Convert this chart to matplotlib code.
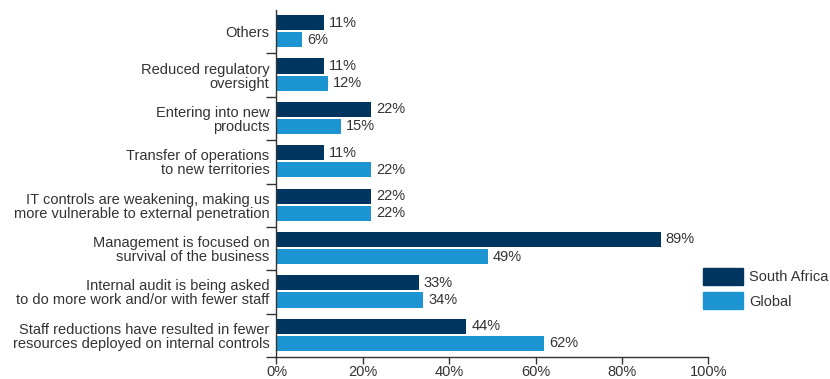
import numpy as np
import matplotlib.pyplot as plt
from matplotlib.patches import Patch

plt.rcParams['font.family'] = ['Liberation Sans', 'DejaVu Sans']

categories = [
    "Others",
    "Reduced regulatory\noversight",
    "Entering into new\nproducts",
    "Transfer of operations\nto new territories",
    "IT controls are weakening, making us\nmore vulnerable to external penetration",
    "Management is focused on\nsurvival of the business",
    "Internal audit is being asked\nto do more work and/or with fewer staff",
    "Staff reductions have resulted in fewer\nresources deployed on internal controls",
]
south_africa = [11, 11, 22, 11, 22, 89, 33, 44]
global_vals = [6, 12, 15, 22, 22, 49, 34, 62]
x_ticks = [0, 20, 40, 60, 80, 100]

dark = '#003560'
light = '#1e95d3'
text_col = '#333333'
fs = 10.5

fig = plt.figure(figsize=(8.3, 3.79), dpi=100)
ax = fig.add_axes([0.3331, 0.058, 0.8534 - 0.3331, 0.9736 - 0.058])

centers = np.arange(len(categories)) + 0.5
h = 0.35
ax.barh(centers - 0.21, south_africa, height=h, color=dark)
ax.barh(centers + 0.185, global_vals, height=h, color=light)

for c, v in zip(centers, south_africa):
    ax.annotate(f"{v}%", (v, c - 0.21), xytext=(3.5, 0), textcoords='offset points',
                va='center', ha='left', fontsize=fs, color=text_col)
for c, v in zip(centers, global_vals):
    ax.annotate(f"{v}%", (v, c + 0.185), xytext=(3.5, 0), textcoords='offset points',
                va='center', ha='left', fontsize=fs, color=text_col)

ax.set_xlim(0, 100)
ax.set_ylim(len(categories), 0)

# group boundaries carry the tick marks, labels sit at the group centres
ax.set_yticks(np.arange(1, len(categories) + 1))
ax.set_yticklabels([])
ax.set_yticks(centers, minor=True)
ax.set_yticklabels(categories, minor=True, fontsize=fs, color=text_col,
                   linespacing=1.0)
ax.tick_params(axis='y', which='major', direction='out', length=7,
               color=text_col, width=1)
ax.tick_params(axis='y', which='minor', length=0, pad=5)

ax.set_xticks(x_ticks)
ax.set_xticklabels([f"{t}%" for t in x_ticks], fontsize=fs, color=text_col)
ax.tick_params(axis='x', direction='out', length=5, color=text_col, width=1, pad=0.5)

for s in ['top', 'right']:
    ax.spines[s].set_visible(False)
for s in ['left', 'bottom']:
    ax.spines[s].set_color(text_col)
    ax.spines[s].set_linewidth(1)

handles = [Patch(color=dark, label="South Africa"), Patch(color=light, label="Global")]
fig.legend(handles=handles, loc='upper left', bbox_to_anchor=(703 / 830, 1 - 268 / 379),
           frameon=False, fontsize=fs, borderpad=0, borderaxespad=0,
           handlelength=2.74, handleheight=1.44, labelspacing=0.48,
           handletextpad=0.41, labelcolor=text_col)

fig.savefig("out.png", dpi=100)
